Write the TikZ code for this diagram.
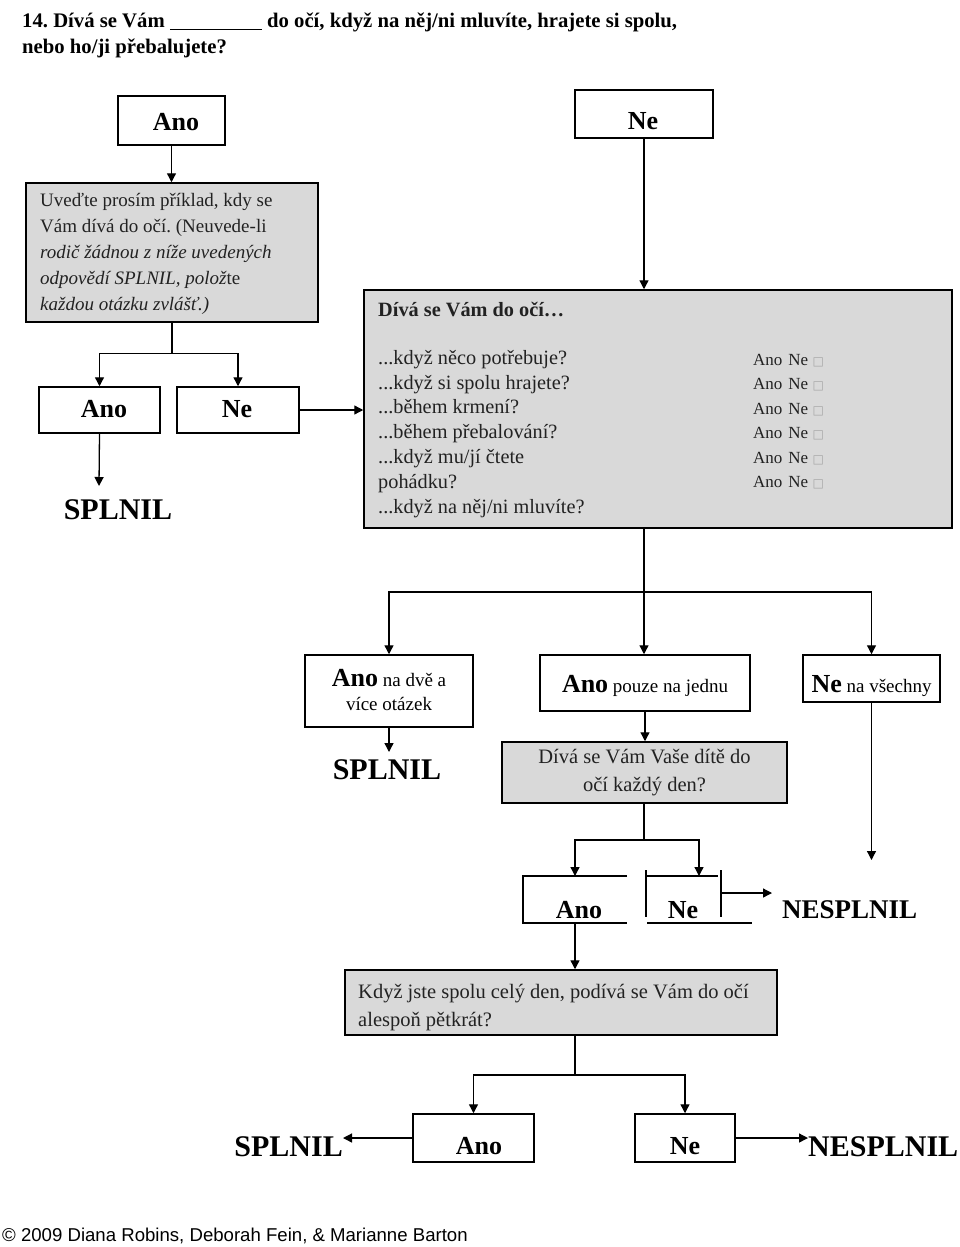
\documentclass[tikz,border=0pt]{standalone}
\usepackage{fontspec}
\setmainfont{Liberation Serif}
\newfontfamily\sansf{Liberation Sans}
\newfontfamily\dejavu{DejaVu Sans}
\usetikzlibrary{arrows.meta}
\newcommand{\fs}[1]{\fontsize{#1}{#1}\selectfont}
\definecolor{boxgray}{HTML}{D9D9D9}
\definecolor{txtgray}{HTML}{222222}
\frenchspacing
\tikzset{
  ln/.style={line width=1.3pt},
  arr/.style={line width=1.3pt,-{Triangle[width=9pt,length=9pt]}},
  wbox/.style={draw,line width=1.5pt,inner sep=0pt,fill=white},
  gbox/.style={draw,line width=1.5pt,fill=boxgray,inner sep=0pt},
  txt/.style={inner sep=0pt},
  lab/.style={inner sep=0pt,font=\fontsize{26}{26}\selectfont\bfseries},
  gt/.style={inner sep=0pt,anchor=base west,text=txtgray,font=\fontsize{19}{22}\selectfont},
  li/.style={inner sep=0pt,anchor=base west,text=txtgray,font=\fontsize{20.3}{24}\selectfont},
  rc/.style={inner sep=0pt,anchor=base west,text=txtgray,font=\fontsize{17}{20}\selectfont},
  big/.style={inner sep=0pt,font=\fontsize{30}{30}\selectfont\bfseries},
}
\begin{document}
\begin{tikzpicture}[x=1pt,y=-1pt]
\useasboundingbox (0,0) rectangle (960,1247);
% title
\node[txt,anchor=base west] (t1) at (22,28) {\fs{20.7}\bfseries 14. Dívá se Vám \underline{\hspace{92pt}} do očí, když na něj/ni mluvíte, hrajete si spolu,};
\node[txt,anchor=base west] (t2) at (22,53) {\fs{20.7}\bfseries nebo ho/ji přebalujete?};
% top boxes
\node[wbox,minimum width=107pt,minimum height=49pt] (ano1) at (171.5,120.5) {};
\node[lab] (ano1t) at (176,122) {Ano};
\node[wbox,minimum width=138pt,minimum height=48pt] (ne1) at (644,114) {};
\node[lab] (ne1t) at (643,121) {Ne};
% gray box 1
\node[gbox,minimum width=292pt,minimum height=139pt] (g1) at (172,252.5) {};
\node[gt] (g1a) at (40,206) {Uveďte prosím příklad, kdy se};
\node[gt] (g1b) at (40,232) {Vám dívá do očí. (Neuvede-li};
\node[gt] (g1c) at (40,258) {\itshape rodič žádnou z níže uvedených};
\node[gt] (g1d) at (40,284) {\itshape odpovědí SPLNIL, polož\upshape te};
\node[gt] (g1e) at (40,310) {\itshape každou otázku zvlášť.)};
\draw[arr] (ano1.south) -- (ano1.south |- g1.north);
% second row left
\node[wbox,minimum width=121pt,minimum height=46pt] (ano2) at (99.5,410) {};
\node[lab] (ano2t) at (104,409) {Ano};
\node[wbox,minimum width=122pt,minimum height=46pt] (ne2) at (238,410) {};
\node[lab] (ne2t) at (237,409) {Ne};
\draw[ln] (g1.south) -- ++(0,31) coordinate (j1);
\draw[arr] (j1) -| (ano2.north);
\draw[arr] (j1) -| (ne2.north);
\node[big] (spl1) at (118,510) {SPLNIL};
\coordinate (spl1t) at (99,486);
\draw[arr] (ano2.south) -- (spl1t);
% gray box 2
\node[gbox,minimum width=588pt,minimum height=238pt] (g2) at (658,409) {};
\node[li] (h2) at (378,316) {\bfseries Dívá se Vám do očí…};
\node[li] (q1) at (378,364) {...když něco potřebuje?};
\node[li] (q2) at (378,389) {...když si spolu hrajete?};
\node[li] (q3) at (378,413) {...během krmení?};
\node[li] (q4) at (378,438) {...během přebalování?};
\node[li] (q5) at (378,463) {...když mu/jí čtete};
\node[li] (q6) at (378,488) {pohádku?};
\node[li] (q7) at (378,513) {...když na něj/ni mluvíte?};
\foreach \i/\y in {1/365,2/389,3/414,4/438,5/463,6/487}{
  \node[rc] (r\i) at (753,\y) {Ano\hspace{6pt}Ne {\dejavu\fontsize{12}{12}\selectfont\color{gray!70}□}};
}
\draw[arr] (ne1.south) -- (ne1.south |- g2.north);
\draw[arr] (ne2.east) -- (ne2.east -| g2.west);
% third row
\node[wbox,minimum width=168pt,minimum height=72pt] (A) at (389,691) {};
\node[txt,align=center,font=\fontsize{19}{24}\selectfont] (At) at (389,690) {{\bfseries\fontsize{26}{24}\selectfont Ano} na dvě a\\více otázek};
\node[wbox,minimum width=210pt,minimum height=56pt] (B) at (645,683) {};
\node[txt,anchor=base,font=\fontsize{19}{24}\selectfont] (Bt) at (645,692) {{\bfseries\fs{26}Ano} pouze na jednu};
\node[wbox,minimum width=137pt,minimum height=47pt] (C) at (871.5,678.5) {};
\node[txt,anchor=base,font=\fontsize{19}{24}\selectfont] (Ct) at (871.5,692) {{\bfseries\fs{26}Ne} na všechny};
\draw[ln] (g2.south -| ne1.south) -- (644,592) coordinate (j2);
\draw[arr] (j2) -| (A.north);
\draw[arr] (j2) -- (j2 |- B.north);
\draw[arr] (j2) -| (C.north);
\node[big] (spl2) at (387,770) {SPLNIL};
\coordinate (spl2t) at (389,752);
\draw[arr] (A.south) -- (spl2t);
\node[gbox,minimum width=285pt,minimum height=61pt,align=center,text=txtgray,font=\fontsize{20.5}{28}\selectfont] (g3) at (644.5,772.5) {Dívá se Vám Vaše dítě do\\očí každý den?};
\draw[arr] (B.south) -- (B.south |- g3.north);
\coordinate (Cend) at (871.5,860);
\draw[arr] (C.south) -- (Cend);
% brackets
\node[lab] (anoB) at (579,910) {Ano};
\node[lab] (neB) at (683,910) {Ne};
\draw[ln] (627,876) -- (523,876) -- (523,923) -- (627,923);
\draw[ln] (646,870) -- (646,917);
\draw[ln] (646,876) -- (718,876);
\draw[ln] (721,870) -- (721,917);
\draw[ln] (647,923) -- (752,923);
\coordinate (anoBt) at (575,876);
\coordinate (neBt) at (699,876);
\coordinate (anoBb) at (575,923);
\coordinate (neBr) at (721,893);
\draw[ln] (g3.south -| ne1.south) -- (644,840) coordinate (j3);
\draw[arr] (j3) -| (anoBt);
\draw[arr] (j3) -| (neBt);
\node[txt,font=\fontsize{27}{27}\selectfont\bfseries,anchor=west] (nes1) at (782,910) {NESPLNIL};
\draw[arr] (neBr) -- (772,893);
% gray box 4
\node[gbox,minimum width=432pt,minimum height=65pt] (g4) at (561,1002.5) {};
\node[li,font=\fontsize{20.5}{24}\selectfont] (g4a) at (358,998) {Když jste spolu celý den, podívá se Vám do očí};
\node[li,font=\fontsize{20.5}{24}\selectfont] (g4b) at (358,1026) {alespoň pětkrát?};
\draw[arr] (anoBb) -- (anoBb |- g4.north);
\draw[ln] (g4.south -| anoBb) -- (575,1075) coordinate (j4);
% bottom row
\node[wbox,minimum width=121pt,minimum height=48pt] (ano5) at (473.5,1138) {};
\node[lab] (ano5t) at (479,1146) {Ano};
\node[wbox,minimum width=100pt,minimum height=48pt] (ne5) at (685,1138) {};
\node[lab] (ne5t) at (685,1146) {Ne};
\draw[arr] (j4) -| (ano5.north);
\draw[arr] (j4) -| (ne5.north);
\node[big,anchor=east] (spl3) at (343,1147) {SPLNIL};
\node[big,anchor=west] (nes2) at (808,1147) {NESPLNIL};
\draw[arr] (ano5.west) -- (ano5.west -| spl3.east);
\draw[arr] (ne5.east) -- (ne5.east -| nes2.west);
% footer
\node[txt,anchor=base west,font=\sansf\fontsize{18.6}{18.6}\selectfont] (foot) at (2,1241) {© 2009 Diana Robins, Deborah Fein, \& Marianne Barton};
\end{tikzpicture}
\end{document}
